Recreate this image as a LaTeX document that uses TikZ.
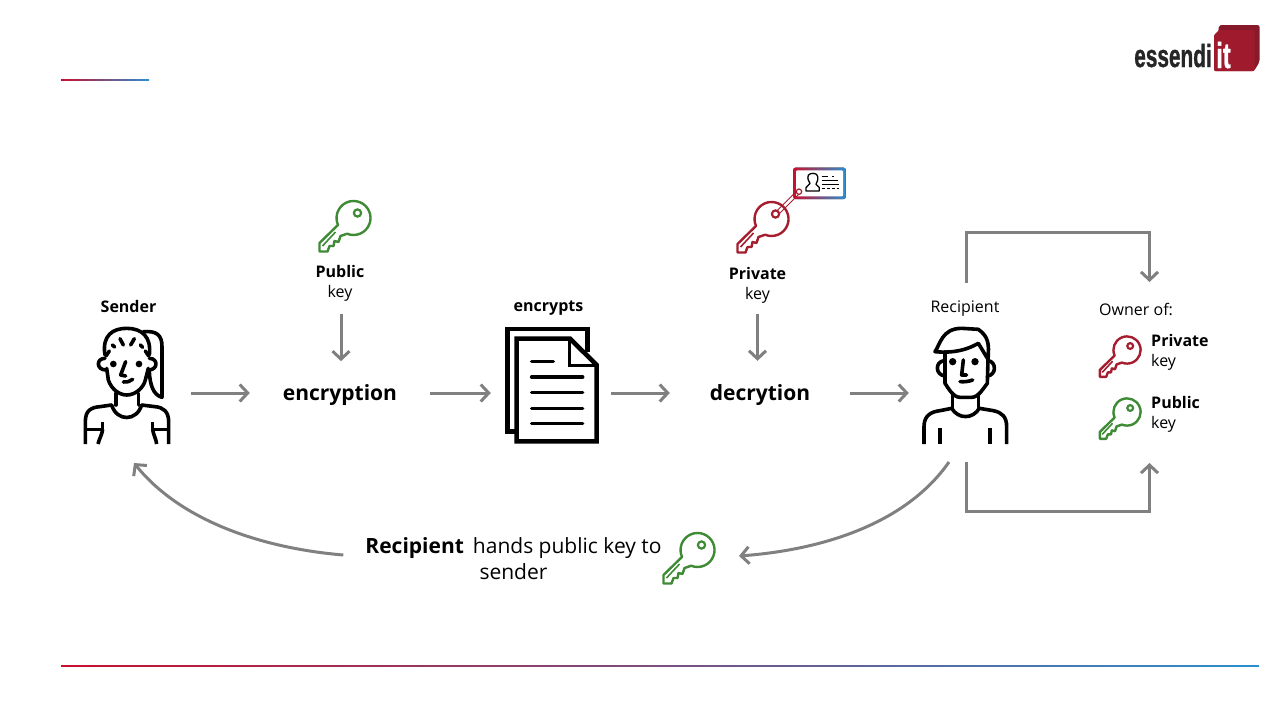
\documentclass[tikz,border=0pt]{standalone}
\usepackage{fontspec}
\setmainfont{Open Sans}
\newfontfamily\logofont[BoldFeatures={FakeBold=1.2}]{Liberation Sans}
\usetikzlibrary{arrows.meta}
\definecolor{flowgray}{HTML}{808080}
\definecolor{keygreen}{HTML}{3E8A35}
\definecolor{keyred}{HTML}{A51E30}
\definecolor{rulered}{HTML}{C8102E}
\definecolor{ruleblue}{HTML}{2B8FD0}
\definecolor{logored}{HTML}{A01A2E}
\definecolor{logodark}{HTML}{86192A}
\tikzset{
	flow/.style={draw=flowgray, line width=3pt, -{Straight Barb[length=8pt, width=17pt]}},
	icon/.style={draw=black, line width=3.6pt, line cap=round, line join=round},
	small/.style={font=\fontsize{16}{20}\selectfont, align=center, inner sep=0pt},
	large/.style={font=\fontsize{21}{26}\selectfont\bfseries, inner sep=0pt, text height=15pt, text depth=0pt},
	cell/.style={shift={#1}, scale=1/3},
	keyicon/.pic={
		\draw[line width=2.4pt, line join=round] (-15.5,6.9) arc (156:472:17)
			-- (-13,18) -- (-15,24) -- (-19,23) -- (-20,28) -- (-24,28) -- (-26,33.5) -- (-34,33.5) -- (-34,25) -- cycle;
		\draw[line width=1.6pt] (-31,28) -- (-18,14);
		\draw[line width=2.2pt] (4,-5) circle (3.6);
	}
}
\begin{document}
\begin{tikzpicture}[x=1pt, y=-1pt]
	\useasboundingbox (0,0) rectangle (1280,720);
	
	%%%%% rules %%%%%
	\fill[left color=rulered, right color=ruleblue] (61,79.2) rectangle (149,80.8);
	\fill[left color=rulered, right color=ruleblue] (61,665.2) rectangle (1259,666.8);
	
	%%%%% logo %%%%%
	\fill[logodark, rounded corners=2pt] (1219,25) -- (1259.5,25) -- (1259.5,62) -- (1254,71) -- (1214,71) -- cycle;
	\fill[logored, rounded corners=1pt] (1214,35) -- (1219,30) -- (1254.5,30) -- (1254.5,71) -- (1214,71) -- cycle;
	\node[inner sep=0pt, anchor=base, xscale=0.65, font=\logofont\bfseries\fontsize{32}{32}\selectfont, text=black!85] (logotext) at (1173,67) {essendi};
	\node[inner sep=0pt, anchor=base, xscale=0.66, font=\logofont\bfseries\fontsize{36}{36}\selectfont, text=white] (logoit) at (1223.5,68) {it};
	
	%%%%% main row %%%%%
	\node[minimum width=128pt, minimum height=138pt, inner sep=0pt] (sender) at (127,393) {};
	\node[large, minimum width=180pt, minimum height=64pt] (encryption) at (340,393) {encryption};
	\node[minimum width=120pt, minimum height=120pt, inner sep=0pt] (document) at (551,393) {};
	\node[large, minimum width=180pt, minimum height=64pt] (decryption) at (760,393) {decrytion};
	\node[minimum width=112pt, minimum height=138pt, inner sep=0pt] (recipient) at (965,393) {};
	
	\draw[flow] (sender.east) -- (encryption.west);
	\draw[flow] (encryption.east) -- (document.west);
	\draw[flow] (document.east) -- (decryption.west);
	\draw[flow] (decryption.east) -- (recipient.west);
	
	%%%%% labels %%%%%
	\node[small, font=\fontsize{16}{20}\selectfont\bfseries] (sendername) at (128.5,306) {Sender};
	\node[small, font=\fontsize{16}{20}\selectfont\bfseries] (documentname) at (548.5,308.5) {encrypts};
	\node[small, minimum height=52pt] (recipientname) at (965,309) {Recipient};
	\node[small, minimum height=62pt] (publiclabel) at (340,283) {\textbf{Public}\\key};
	\node[small, minimum height=58pt] (privatelabel) at (757.5,285) {\textbf{Private}\\key};
	\draw[flow] (publiclabel.south) ++(1,0) -- ++(0,47);
	\draw[flow] (privatelabel.south) -- (privatelabel.south |- decryption.north);
	
	\node[small, anchor=west] (ownerlabel) at (1099,309) {Owner of:};
	\node[small, anchor=west, align=left] (ownerprivate) at (1151,352) {\textbf{Private}\\key};
	\node[small, anchor=west, align=left] (ownerpublic) at (1151,414.5) {\textbf{Public}\\key};
	
	%%%%% owner loop %%%%%
	\coordinate (ownertop) at (1149.5,282);
	\coordinate (ownerfoot) at (1149.5,463);
	\draw[flow] (recipientname.north) ++(1,0) -- ++(0,-50) -| (ownertop);
	\draw[flow] (recipient.south) ++(1,0) -- ++(0,49) -| (ownerfoot);
	
	%%%%% hand over %%%%%
	\node[inner sep=0pt, align=center, minimum width=340pt, font=\fontsize{21}{26}\selectfont] (handtext) at (513.5,559) {\textbf{Recipient}\, hands public key to\\sender};
	\coordinate (senderfoot) at (134,463);
	\coordinate (recipientfoot) at (949,462);
	\coordinate (handkey) at (739,556);
	\draw[flow] ([yshift=4pt]handtext.west) .. controls (260,548) and (180,520) .. (senderfoot);
	\draw[flow] (recipientfoot) .. controls (905,525) and (820,550) .. (handkey);
	
	%%%%% keys %%%%%
	\pic[color=keygreen] at (353.5,218) {keyicon};
	\pic[color=keyred] at (771.5,219) {keyicon};
	\pic[color=keyred, scale=0.8] at (1127,350) {keyicon};
	\pic[color=keygreen, scale=0.8] at (1127,412) {keyicon};
	\pic[color=keygreen] at (697.5,550) {keyicon};
	
	%%%%% sender %%%%%
	\begin{scope}[cell={(60,290)}]
		\draw[icon] (135,195) .. controls (125,135) and (160,115) .. (200,115) .. controls (245,115) and (275,140) .. (268,195);
		\draw[icon] (140,235) -- (145,270) .. controls (155,300) and (180,315) .. (200,315) .. controls (225,315) and (250,295) .. (256,270) -- (265,235);
		\draw[icon] (135,205) .. controls (108,205) and (108,240) .. (138,240);
		\draw[icon] (268,205) .. controls (295,205) and (295,240) .. (265,240);
		\draw[icon] (148,183) -- (138,198);
		\draw[icon] (157,165) -- (164,171);
		\draw[icon] (180,146) -- (190,165);
		\draw[icon] (223,146) -- (212,165);
		\draw[icon] (241,165) -- (248,172);
		\draw[icon] (256,183) -- (266,198);
		\fill (160,222) circle (10);
		\fill (237,222) circle (10);
		\draw[icon] (197,215) -- (182,255) -- (197,258);
		\draw[icon] (190,276) .. controls (200,277) and (210,275) .. (218,268);
		\draw[icon] (250,125) .. controls (290,122) and (306,135) .. (306,170) -- (306,322) .. controls (280,315) and (270,285) .. (268,245);
		\draw[icon] (168,310) -- (168,345);
		\draw[icon] (235,310) -- (235,345);
		\draw[icon, line cap=butt] (76,462) -- (76,395) .. controls (76,360) and (95,352) .. (120,350) -- (155,345) .. controls (170,395) and (230,395) .. (245,345) -- (285,350) .. controls (310,352) and (326,365) .. (326,395) -- (326,462);
		\draw[icon, line cap=butt] (76,418) -- (128,418) -- (128,396);
		\draw[icon, line cap=butt] (128,418) .. controls (126,435) and (118,445) .. (114,462);
		\draw[icon, line cap=butt] (326,418) -- (278,418) -- (278,396);
		\draw[icon, line cap=butt] (278,418) .. controls (280,435) and (288,445) .. (290,462);
	\end{scope}
	
	%%%%% document %%%%%
	\begin{scope}[cell={(490,315)}]
		\draw[icon, line width=4.6pt, line cap=butt, line join=miter] (80,350) -- (52,350) -- (52,42) -- (293,42) -- (293,110);
		\draw[icon, line width=4.6pt, line join=miter] (80,71) -- (240,71) -- (320,150) -- (320,379) -- (80,379) -- cycle;
		\draw[icon, line width=3.4pt, line join=miter] (238,71) -- (238,152) -- (320,152);
		\draw[icon] (125,140) -- (190,140);
		\foreach \rowy in {186,233,280,326}
			\draw[icon] (125,\rowy) -- (278,\rowy);
	\end{scope}
	
	%%%%% recipient %%%%%
	\begin{scope}[cell={(900,300)}]
		\draw[icon] (105,155) .. controls (120,135) and (125,85) .. (185,85) -- (235,88) .. controls (265,110) and (268,130) .. (264,178) -- (235,130) .. controls (200,150) and (160,160) .. (105,155) -- cycle;
		\draw[icon] (135,155) -- (135,250) .. controls (145,265) and (160,292) .. (180,292) -- (215,292) .. controls (235,292) and (250,265) .. (262,250) -- (264,178);
		\draw[icon] (132,182) .. controls (105,185) and (105,225) .. (135,228);
		\draw[icon] (264,182) .. controls (290,185) and (290,225) .. (262,228);
		\fill (158,185) circle (11);
		\fill (225,185) circle (11);
		\draw[icon] (190,180) -- (185,225) -- (200,225);
		\draw[icon] (180,245) .. controls (195,246) and (208,244) .. (218,240);
		\draw[icon] (158,285) -- (158,322);
		\draw[icon] (235,285) -- (235,322);
		\draw[icon, line cap=butt] (72,432) -- (72,380) .. controls (72,345) and (95,335) .. (120,332) -- (155,325) .. controls (175,358) and (218,358) .. (238,325) -- (280,332) .. controls (305,337) and (320,350) .. (320,380) -- (320,432);
		\draw[icon, line cap=butt] (120,385) -- (120,432);
		\draw[icon, line cap=butt] (270,385) -- (270,432);
	\end{scope}
	
	%%%%% id card %%%%%
	\begin{scope}[cell={(720,155)}]
		\fill[left color=rulered, right color=ruleblue, rounded corners=2pt] (220,38) rectangle (377,132);
		\fill[white, rounded corners=1pt] (228,46) rectangle (369,124);
		\draw[keyred, line width=0.9pt] (170,168) -- (232,106);
		\draw[keyred, line width=0.9pt] (178,176) -- (240,114);
		\fill[white] (237,110) circle (8);
		\draw[keyred, line width=1.2pt] (237,110) circle (8);
		\draw[line width=1.3pt, line join=round] (270,85) .. controls (255,60) and (268,55) .. (280,55) .. controls (295,55) and (298,70) .. (288,88) -- (298,98) -- (298,108) -- (258,108) -- (258,98) -- cycle;
		\draw[line width=0.8pt] (305,65) -- (325,65) (335,65) -- (342,65);
		\draw[line width=0.8pt] (305,76) -- (355,76);
		\draw[line width=1.4pt] (305,89) -- (357,89);
		\draw[line width=0.8pt, densely dashed] (305,101) -- (357,101);
	\end{scope}
\end{tikzpicture}
\end{document}
